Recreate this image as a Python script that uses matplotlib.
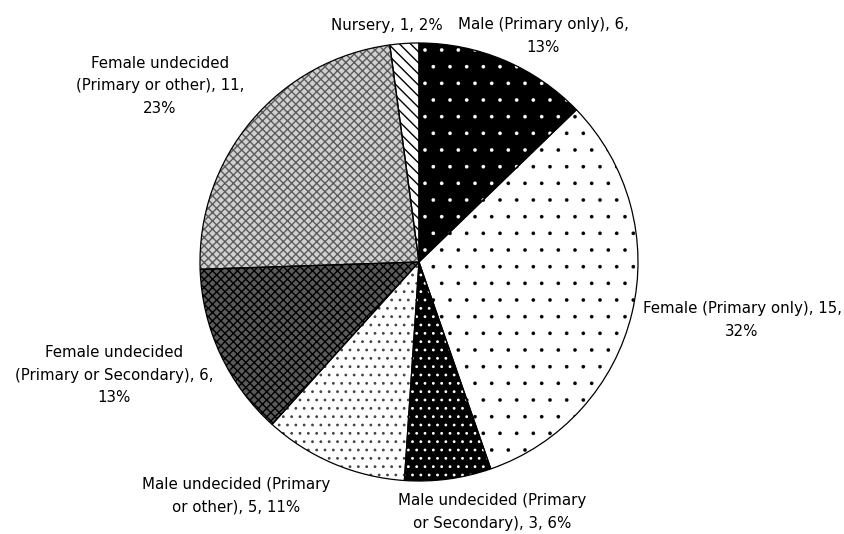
import matplotlib
matplotlib.use("Agg")
import matplotlib.pyplot as plt
from matplotlib.patches import Wedge

# ── data ──────────────────────────────────────────────────────────────────────
categories = [
    "Male (Primary only)",
    "Female (Primary only)",
    "Male undecided (Primary\nor Secondary)",
    "Male undecided (Primary\nor other)",
    "Female undecided\n(Primary or Secondary)",
    "Female undecided\n(Primary or other)",
    "Nursery",
]
counts = [6, 15, 3, 5, 6, 11, 1]
percents = [13, 32, 6, 11, 13, 23, 2]
label_texts = [
    "Male (Primary only), 6,\n13%",
    "Female (Primary only), 15,\n32%",
    "Male undecided (Primary\nor Secondary), 3, 6%",
    "Male undecided (Primary\nor other), 5, 11%",
    "Female undecided\n(Primary or Secondary), 6,\n13%",
    "Female undecided\n(Primary or other), 11,\n23%",
    "Nursery, 1, 2%",
]

# ── styling (face, hatch, hatch colour, hatch width) ─────────────────────────
faces = ["black", "white", "black", "white", "#5a5a5a", "#d0d0d0", "white"]
hatches = [".", ".", "..", "..", "xxxx", "xxxx", "\\\\\\"]
hatch_cols = ["white", "black", "white", "#444444", "black", "#5c5c5c", "black"]
hatch_lw = [0.2, 0.2, 0.8, 0.8, 1.0, 1.0, 1.0]
# label centres in data units (radius = 1)
label_pos = [(0.566, 1.032), (1.475, -0.265), (0.333, -1.142),
             (-0.836, -1.068), (-1.393, -0.516), (-1.183, 0.804),
             (-0.146, 1.082)]

fig = plt.figure(figsize=(8.45, 5.34), dpi=100)
ax = fig.add_axes([0, 0, 1, 1])

wedges, _ = ax.pie(counts, startangle=90, counterclock=False, radius=1,
                   center=(0, 0), frame=False)
ax.set_xlim(-419 / 219, (845 - 419) / 219)
ax.set_ylim(-(534 - 262) / 219, 262 / 219)
ax.set_aspect("equal")
ax.axis("off")

for w, fc, h, hc, hl in zip(wedges, faces, hatches, hatch_cols, hatch_lw):
    w.set_facecolor(fc)
    w.set_hatch(h)
    w.set_edgecolor(hc)
    w.set_linewidth(0)
    if hasattr(w, "set_hatch_linewidth"):
        w.set_hatch_linewidth(hl)
    # black outline drawn on top
    ax.add_patch(Wedge(w.center, w.r, w.theta1, w.theta2, fill=False,
                       edgecolor="black", linewidth=0.9, zorder=3))

for txt, (x, y) in zip(label_texts, label_pos):
    ax.text(x, y, txt, ha="center", va="center", fontsize=10.8,
            family="DejaVu Sans", linespacing=1.6, color="black")

fig.savefig("out.png", dpi=100)
